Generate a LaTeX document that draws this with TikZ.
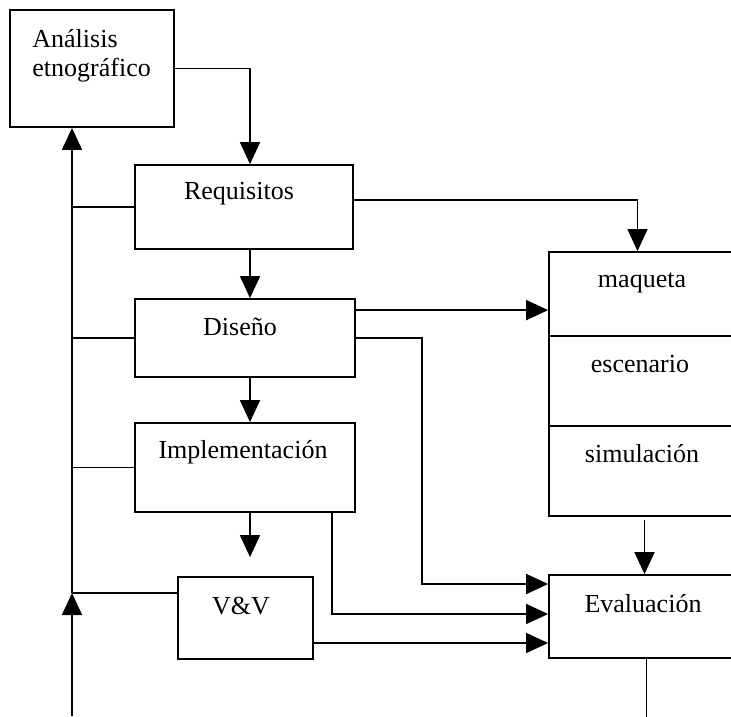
\documentclass[tikz,border=0pt]{standalone}
\usepackage{fontspec}
\setmainfont{Liberation Serif}
\usetikzlibrary{positioning,fit,arrows.meta}

\begin{document}
\begin{tikzpicture}[
    x=0.5pt, y=-0.5pt,
    box/.style={draw, line width=0.9pt, inner sep=0pt},
    boxtext/.style={font=\fontsize{13pt}{15pt}\selectfont, inner sep=0pt, anchor=base},
    link/.style={line width=0.85pt},
    flow/.style={line width=0.85pt, -{Triangle[length=11pt, width=10pt]}},
]

\useasboundingbox (0,0) rectangle (731,716);
\clip (0,0) rectangle (731,716);

% Boxes (left column)
\node[box, fit={(10,10) (174,127)}] (analisis) {};
\node[boxtext, anchor=base west] (analisis1) at (32,48) {Análisis};
\node[boxtext, anchor=base west] (analisis2) at (32,77) {etnográfico};

\node[box, fit={(135,165) (353,249)}] (req) {};
\node[boxtext] (reqtxt) at (239,200) {Requisitos};

\node[box, fit={(135,299) (355,377)}] (dis) {};
\node[boxtext] (distxt) at (240,335) {Diseño};

\node[box, fit={(135,423) (355,512)}] (impl) {};
\node[boxtext] (impltxt) at (243,458) {Implementación};

\node[box, fit={(178,577) (313,659)}] (vv) {};
\node[boxtext] (vvtxt) at (241,614) {V\&V};

% Boxes (right column, cut by the page edge)
\node[box, fit={(549,252) (740,516)}] (maq) {};
\draw[link] (549,336) -- (740,336);
\draw[link] (549,426) -- (740,426);
\node[boxtext] (maqtxt) at (642,287) {maqueta};
\node[boxtext] (esctxt) at (640,372) {escenario};
\node[boxtext] (simtxt) at (642,462) {simulación};

\node[box, fit={(549,575) (740,658)}] (eval) {};
\node[boxtext] (evaltxt) at (643,612) {Evaluación};

% Feedback spine on the left
\coordinate (spinebot) at (72,716);
\coordinate (spinej) at (72,593);
\draw[flow] (spinebot) -- (spinej);
\draw[flow] (spinej) -- (analisis.south -| spinej);
\draw[link] (req.west) -- (req.west -| spinej);
\draw[link] (dis.west) -- (dis.west -| spinej);
\draw[link] (impl.west) -- (impl.west -| spinej);
\draw[link] (spinej) -- (spinej -| vv.west);

% Main flow down
\draw[flow] (analisis.east) -| ([xshift=2.5pt]dis.north |- req.north);
\draw[flow] ([xshift=2.5pt]dis.north |- req.south) -- ([xshift=2.5pt]dis.north);
\draw[flow] ([xshift=2.5pt]dis.south) -- ([xshift=2.5pt]impl.north);
\draw[flow, shorten >=9.5pt] ([xshift=2.5pt]impl.south) -- ([xshift=2.5pt]impl.south |- vv.north);

% To the prototype box
\draw[flow] ([yshift=3.5pt]req.east) -| ([xshift=-3.5pt]maq.north);
\draw[flow] ([yshift=-6pt]dis.north east) -- ([yshift=-6pt]dis.north east -| maq.west);

% To the evaluation box
\coordinate (bendD) at (422,584);
\coordinate (bendI) at (332,614);
\draw[flow] ([yshift=-20pt]dis.north east) -| (bendD) -- (bendD -| eval.west);
\draw[flow] (impl.south -| bendI) -- (bendI) -- (bendI -| eval.west);
\draw[flow] ([yshift=-12.5pt]vv.east) -- ([yshift=-12.5pt]vv.east -| eval.west);
\draw[flow] ([yshift=-1.5pt]maq.south) -- (eval.north);
\draw[link] ([xshift=1pt]eval.south) -- ++(0,70);

\end{tikzpicture}
\end{document}
